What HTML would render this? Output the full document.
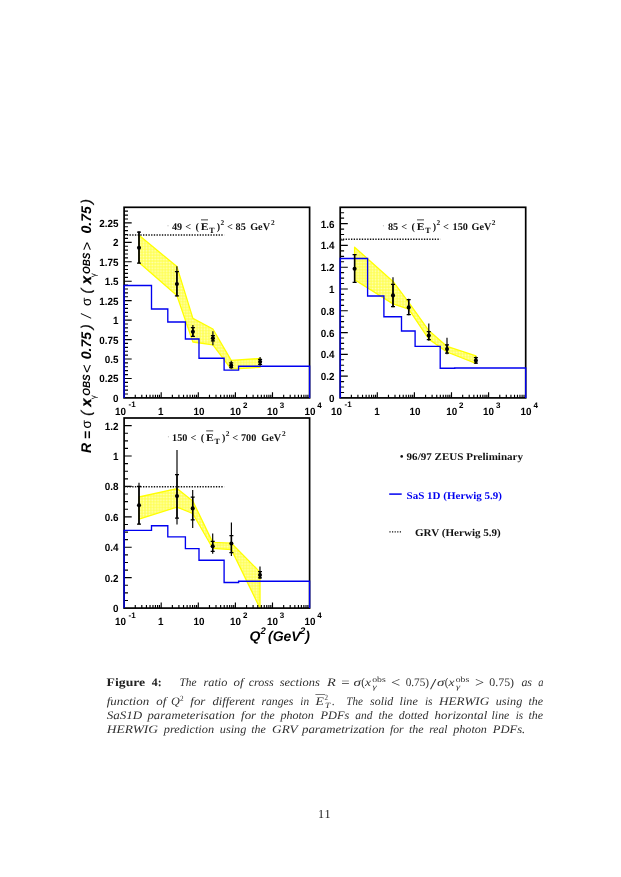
<!DOCTYPE html>
<html><head><meta charset="utf-8"><title>Figure 4</title>
<style>html,body{margin:0;padding:0;background:#fff;}svg{display:block;will-change:transform}text{white-space:pre;text-rendering:geometricPrecision}</style></head><body>
<svg width="621" height="877" viewBox="0 0 621 877">
<defs><pattern id="hat" width="2.9" height="2.9" patternUnits="userSpaceOnUse"><rect width="2.9" height="2.9" fill="#ffff46"/><rect x="0.55" y="0.55" width="1.8" height="1.8" fill="#ffffbe"/></pattern>
<clipPath id="cp1"><rect x="124.1" y="207.3" width="185.5" height="190.59999999999997"/></clipPath>
<clipPath id="cp2"><rect x="340.2" y="207.3" width="185.5" height="190.59999999999997"/></clipPath>
<clipPath id="cp3"><rect x="124.1" y="418.0" width="185.5" height="190.10000000000002"/></clipPath>
</defs>
<rect width="621" height="877" fill="#fff"/>
<g id="panel1">
<polygon clip-path="url(#cp1)" points="139,235.3 176.9,266.6 192.9,318.4 212.9,329 231.2,360.4 260.1,358.5 260.1,367.3 231.2,369.1 212.9,344.8 192.9,342 176.9,295.6 139,262.5" fill="url(#hat)" stroke="#ffff00" stroke-width="1.3" stroke-linejoin="round"/>
<rect x="124.1" y="207.3" width="185.5" height="190.6" fill="none" stroke="#000" stroke-width="1.7"/>
<path d="M124.1,394.01h3.9 M124.1,390.12h3.9 M124.1,386.23h3.9 M124.1,382.34h3.9 M124.1,378.45h7.6 M124.1,374.56h3.9 M124.1,370.67h3.9 M124.1,366.78h3.9 M124.1,362.89h3.9 M124.1,359h7.6 M124.1,355.11h3.9 M124.1,351.22h3.9 M124.1,347.33h3.9 M124.1,343.44h3.9 M124.1,339.55h7.6 M124.1,335.66h3.9 M124.1,331.77h3.9 M124.1,327.88h3.9 M124.1,323.99h3.9 M124.1,320.1h7.6 M124.1,316.21h3.9 M124.1,312.32h3.9 M124.1,308.43h3.9 M124.1,304.54h3.9 M124.1,300.66h7.6 M124.1,296.77h3.9 M124.1,292.88h3.9 M124.1,288.99h3.9 M124.1,285.1h3.9 M124.1,281.21h7.6 M124.1,277.32h3.9 M124.1,273.43h3.9 M124.1,269.54h3.9 M124.1,265.65h3.9 M124.1,261.76h7.6 M124.1,257.87h3.9 M124.1,253.98h3.9 M124.1,250.09h3.9 M124.1,246.2h3.9 M124.1,242.31h7.6 M124.1,238.42h3.9 M124.1,234.53h3.9 M124.1,230.64h3.9 M124.1,226.75h3.9 M124.1,222.86h7.6 M124.1,218.97h3.9 M124.1,215.08h3.9 M124.1,211.19h3.9 M135.27,397.9v-3.2 M141.8,397.9v-3.2 M146.44,397.9v-3.2 M150.03,397.9v-3.2 M152.97,397.9v-3.2 M155.45,397.9v-3.2 M157.6,397.9v-3.2 M159.5,397.9v-3.2 M161.2,397.9v-5.7 M172.37,397.9v-3.2 M178.9,397.9v-3.2 M183.54,397.9v-3.2 M187.13,397.9v-3.2 M190.07,397.9v-3.2 M192.55,397.9v-3.2 M194.7,397.9v-3.2 M196.6,397.9v-3.2 M198.3,397.9v-5.7 M209.47,397.9v-3.2 M216,397.9v-3.2 M220.64,397.9v-3.2 M224.23,397.9v-3.2 M227.17,397.9v-3.2 M229.65,397.9v-3.2 M231.8,397.9v-3.2 M233.7,397.9v-3.2 M235.4,397.9v-5.7 M246.57,397.9v-3.2 M253.1,397.9v-3.2 M257.74,397.9v-3.2 M261.33,397.9v-3.2 M264.27,397.9v-3.2 M266.75,397.9v-3.2 M268.9,397.9v-3.2 M270.8,397.9v-3.2 M272.5,397.9v-5.7 M283.67,397.9v-3.2 M290.2,397.9v-3.2 M294.84,397.9v-3.2 M298.43,397.9v-3.2 M301.37,397.9v-3.2 M303.85,397.9v-3.2 M306,397.9v-3.2 M307.9,397.9v-3.2" stroke="#000" stroke-width="1.15" fill="none"/>
<text transform="translate(118.4,401.9) scale(0.95,1)" text-anchor="end" font-family="Liberation Sans, sans-serif" font-weight="bold" font-size="10.4">0</text>
<text transform="translate(118.4,382.45) scale(0.95,1)" text-anchor="end" font-family="Liberation Sans, sans-serif" font-weight="bold" font-size="10.4">0.25</text>
<text transform="translate(118.4,363) scale(0.95,1)" text-anchor="end" font-family="Liberation Sans, sans-serif" font-weight="bold" font-size="10.4">0.5</text>
<text transform="translate(118.4,343.55) scale(0.95,1)" text-anchor="end" font-family="Liberation Sans, sans-serif" font-weight="bold" font-size="10.4">0.75</text>
<text transform="translate(118.4,324.1) scale(0.95,1)" text-anchor="end" font-family="Liberation Sans, sans-serif" font-weight="bold" font-size="10.4">1</text>
<text transform="translate(118.4,304.66) scale(0.95,1)" text-anchor="end" font-family="Liberation Sans, sans-serif" font-weight="bold" font-size="10.4">1.25</text>
<text transform="translate(118.4,285.21) scale(0.95,1)" text-anchor="end" font-family="Liberation Sans, sans-serif" font-weight="bold" font-size="10.4">1.5</text>
<text transform="translate(118.4,265.76) scale(0.95,1)" text-anchor="end" font-family="Liberation Sans, sans-serif" font-weight="bold" font-size="10.4">1.75</text>
<text transform="translate(118.4,246.31) scale(0.95,1)" text-anchor="end" font-family="Liberation Sans, sans-serif" font-weight="bold" font-size="10.4">2</text>
<text transform="translate(118.4,226.86) scale(0.95,1)" text-anchor="end" font-family="Liberation Sans, sans-serif" font-weight="bold" font-size="10.4">2.25</text>
<text transform="translate(120.4,415.2) scale(0.95,1)" text-anchor="middle" font-family="Liberation Sans, sans-serif" font-weight="bold" font-size="10.4">10</text>
<text x="128.5" y="407.3" font-family="Liberation Sans, sans-serif" font-weight="bold" font-size="8.0">-1</text>
<text transform="translate(160.8,415.2) scale(0.95,1)" text-anchor="middle" font-family="Liberation Sans, sans-serif" font-weight="bold" font-size="10.4">1</text>
<text transform="translate(198.9,415.2) scale(0.95,1)" text-anchor="middle" font-family="Liberation Sans, sans-serif" font-weight="bold" font-size="10.4">10</text>
<text transform="translate(235.6,415.2) scale(0.95,1)" text-anchor="middle" font-family="Liberation Sans, sans-serif" font-weight="bold" font-size="10.4">10</text>
<text x="242.9" y="407.8" font-family="Liberation Sans, sans-serif" font-weight="bold" font-size="8.0">2</text>
<text transform="translate(272.5,415.2) scale(0.95,1)" text-anchor="middle" font-family="Liberation Sans, sans-serif" font-weight="bold" font-size="10.4">10</text>
<text x="279.8" y="407.8" font-family="Liberation Sans, sans-serif" font-weight="bold" font-size="8.0">3</text>
<text transform="translate(310,415.2) scale(0.95,1)" text-anchor="middle" font-family="Liberation Sans, sans-serif" font-weight="bold" font-size="10.4">10</text>
<text x="317.3" y="407.8" font-family="Liberation Sans, sans-serif" font-weight="bold" font-size="8.0">4</text>
<path d="M124.1,235.0H224.1" stroke="#111" stroke-width="1.5" stroke-dasharray="1.35 1.35" fill="none"/>
<path d="M124.1,397.9V285.5H151.5V309.0H167.8V322.0H185.4V339.0H199V358.2H224.1V370.1H238.6V366.2H309.6V397.9" stroke="#0000f0" stroke-width="1.35" fill="none" stroke-linejoin="miter"/>
<path d="M139,231V263.6 M176.9,266.3V296.6 M192.9,325V337 M212.9,331.2V345.3 M231.2,360.7V368.8 M260.1,357V365.8" stroke="#000" stroke-width="1.15" fill="none"/>
<path d="M139,232V263 M176.9,271.5V295.8 M192.9,327.7V336.3 M212.9,335.6V340.8 M231.2,362.9V367.7 M260.1,359.3V364.3" stroke="#000" stroke-width="1.5" fill="none"/>
<path d="M137,232h4.0 M137,263h4.0 M174.9,271.5h4.0 M174.9,295.8h4.0 M190.9,327.7h4.0 M190.9,336.3h4.0 M210.9,335.6h4.0 M210.9,340.8h4.0 M229.2,362.9h4.0 M229.2,367.7h4.0 M258.1,359.3h4.0 M258.1,364.3h4.0" stroke="#000" stroke-width="1.25" fill="none"/>
<circle cx="139" cy="247.7" r="2.05" fill="#000"/>
<circle cx="176.9" cy="284" r="2.05" fill="#000"/>
<circle cx="192.9" cy="331.8" r="2.05" fill="#000"/>
<circle cx="212.9" cy="338.2" r="2.05" fill="#000"/>
<circle cx="231.2" cy="365.4" r="2.05" fill="#000"/>
<circle cx="260.1" cy="361.8" r="2.05" fill="#000"/>
</g>
<g id="panel2">
<polygon clip-path="url(#cp2)" points="354.6,247.2 393,281.4 408.7,302.4 428.8,330.6 447,346.4 475.9,355.8 475.9,363.3 447,352 428.8,339.1 408.7,309.2 393,303.9 354.6,279.8" fill="url(#hat)" stroke="#ffff00" stroke-width="1.3" stroke-linejoin="round"/>
<rect x="340.2" y="207.3" width="185.5" height="190.6" fill="none" stroke="#000" stroke-width="1.7"/>
<path d="M340.2,392.45h3.9 M340.2,387.01h3.9 M340.2,381.56h3.9 M340.2,376.12h7.6 M340.2,370.67h3.9 M340.2,365.23h3.9 M340.2,359.78h3.9 M340.2,354.33h7.6 M340.2,348.89h3.9 M340.2,343.44h3.9 M340.2,338h3.9 M340.2,332.55h7.6 M340.2,327.11h3.9 M340.2,321.66h3.9 M340.2,316.21h3.9 M340.2,310.77h7.6 M340.2,305.32h3.9 M340.2,299.88h3.9 M340.2,294.43h3.9 M340.2,288.99h7.6 M340.2,283.54h3.9 M340.2,278.09h3.9 M340.2,272.65h3.9 M340.2,267.2h7.6 M340.2,261.76h3.9 M340.2,256.31h3.9 M340.2,250.87h3.9 M340.2,245.42h7.6 M340.2,239.97h3.9 M340.2,234.53h3.9 M340.2,229.08h3.9 M340.2,223.64h7.6 M340.2,218.19h3.9 M340.2,212.75h3.9 M351.37,397.9v-3.2 M357.9,397.9v-3.2 M362.54,397.9v-3.2 M366.13,397.9v-3.2 M369.07,397.9v-3.2 M371.55,397.9v-3.2 M373.7,397.9v-3.2 M375.6,397.9v-3.2 M377.3,397.9v-5.7 M388.47,397.9v-3.2 M395,397.9v-3.2 M399.64,397.9v-3.2 M403.23,397.9v-3.2 M406.17,397.9v-3.2 M408.65,397.9v-3.2 M410.8,397.9v-3.2 M412.7,397.9v-3.2 M414.4,397.9v-5.7 M425.57,397.9v-3.2 M432.1,397.9v-3.2 M436.74,397.9v-3.2 M440.33,397.9v-3.2 M443.27,397.9v-3.2 M445.75,397.9v-3.2 M447.9,397.9v-3.2 M449.8,397.9v-3.2 M451.5,397.9v-5.7 M462.67,397.9v-3.2 M469.2,397.9v-3.2 M473.84,397.9v-3.2 M477.43,397.9v-3.2 M480.37,397.9v-3.2 M482.85,397.9v-3.2 M485,397.9v-3.2 M486.9,397.9v-3.2 M488.6,397.9v-5.7 M499.77,397.9v-3.2 M506.3,397.9v-3.2 M510.94,397.9v-3.2 M514.53,397.9v-3.2 M517.47,397.9v-3.2 M519.95,397.9v-3.2 M522.1,397.9v-3.2 M524,397.9v-3.2" stroke="#000" stroke-width="1.15" fill="none"/>
<text transform="translate(334.5,401.9) scale(0.95,1)" text-anchor="end" font-family="Liberation Sans, sans-serif" font-weight="bold" font-size="10.4">0</text>
<text transform="translate(334.5,380.12) scale(0.95,1)" text-anchor="end" font-family="Liberation Sans, sans-serif" font-weight="bold" font-size="10.4">0.2</text>
<text transform="translate(334.5,358.33) scale(0.95,1)" text-anchor="end" font-family="Liberation Sans, sans-serif" font-weight="bold" font-size="10.4">0.4</text>
<text transform="translate(334.5,336.55) scale(0.95,1)" text-anchor="end" font-family="Liberation Sans, sans-serif" font-weight="bold" font-size="10.4">0.6</text>
<text transform="translate(334.5,314.77) scale(0.95,1)" text-anchor="end" font-family="Liberation Sans, sans-serif" font-weight="bold" font-size="10.4">0.8</text>
<text transform="translate(334.5,292.99) scale(0.95,1)" text-anchor="end" font-family="Liberation Sans, sans-serif" font-weight="bold" font-size="10.4">1</text>
<text transform="translate(334.5,271.2) scale(0.95,1)" text-anchor="end" font-family="Liberation Sans, sans-serif" font-weight="bold" font-size="10.4">1.2</text>
<text transform="translate(334.5,249.42) scale(0.95,1)" text-anchor="end" font-family="Liberation Sans, sans-serif" font-weight="bold" font-size="10.4">1.4</text>
<text transform="translate(334.5,227.64) scale(0.95,1)" text-anchor="end" font-family="Liberation Sans, sans-serif" font-weight="bold" font-size="10.4">1.6</text>
<text transform="translate(336.5,415.2) scale(0.95,1)" text-anchor="middle" font-family="Liberation Sans, sans-serif" font-weight="bold" font-size="10.4">10</text>
<text x="344.6" y="407.3" font-family="Liberation Sans, sans-serif" font-weight="bold" font-size="8.0">-1</text>
<text transform="translate(376.9,415.2) scale(0.95,1)" text-anchor="middle" font-family="Liberation Sans, sans-serif" font-weight="bold" font-size="10.4">1</text>
<text transform="translate(415,415.2) scale(0.95,1)" text-anchor="middle" font-family="Liberation Sans, sans-serif" font-weight="bold" font-size="10.4">10</text>
<text transform="translate(451.7,415.2) scale(0.95,1)" text-anchor="middle" font-family="Liberation Sans, sans-serif" font-weight="bold" font-size="10.4">10</text>
<text x="459" y="407.8" font-family="Liberation Sans, sans-serif" font-weight="bold" font-size="8.0">2</text>
<text transform="translate(488.6,415.2) scale(0.95,1)" text-anchor="middle" font-family="Liberation Sans, sans-serif" font-weight="bold" font-size="10.4">10</text>
<text x="495.9" y="407.8" font-family="Liberation Sans, sans-serif" font-weight="bold" font-size="8.0">3</text>
<text transform="translate(526.1,415.2) scale(0.95,1)" text-anchor="middle" font-family="Liberation Sans, sans-serif" font-weight="bold" font-size="10.4">10</text>
<text x="533.4" y="407.8" font-family="Liberation Sans, sans-serif" font-weight="bold" font-size="8.0">4</text>
<path d="M340.2,239.2H440.2" stroke="#111" stroke-width="1.5" stroke-dasharray="1.35 1.35" fill="none"/>
<path d="M340.2,397.9V258.5H367.6V296.0H383.9V316.7H401.5V331.0H415.1V346.4H440.2V368.2H454.7V368.0H525.7V397.9" stroke="#0000f0" stroke-width="1.35" fill="none" stroke-linejoin="miter"/>
<path d="M354.6,254V282.9 M393,277.3V307.3 M408.7,298.8V315.2 M428.8,323.4V340.7 M447,337.8V354.2 M475.9,356.5V363.9" stroke="#000" stroke-width="1.15" fill="none"/>
<path d="M354.6,254.7V282.3 M393,284.3V306.6 M408.7,299.5V314.6 M428.8,331.7V339.5 M447,344.8V353 M475.9,357.5V363" stroke="#000" stroke-width="1.5" fill="none"/>
<path d="M352.6,254.7h4.0 M352.6,282.3h4.0 M391,284.3h4.0 M391,306.6h4.0 M406.7,299.5h4.0 M406.7,314.6h4.0 M426.8,331.7h4.0 M426.8,339.5h4.0 M445,344.8h4.0 M445,353h4.0 M473.9,357.5h4.0 M473.9,363h4.0" stroke="#000" stroke-width="1.25" fill="none"/>
<circle cx="354.6" cy="268.8" r="2.05" fill="#000"/>
<circle cx="393" cy="295.4" r="2.05" fill="#000"/>
<circle cx="408.7" cy="307.4" r="2.05" fill="#000"/>
<circle cx="428.8" cy="335.5" r="2.05" fill="#000"/>
<circle cx="447" cy="349.1" r="2.05" fill="#000"/>
<circle cx="475.9" cy="360.6" r="2.05" fill="#000"/>
</g>
<g id="panel3">
<polygon clip-path="url(#cp3)" points="139,497 177,488.6 192.7,500.9 212.7,542.4 231.4,543.2 260,572.1 260,608.3 231.4,549.6 212.7,548.3 192.7,513.5 177,507.1 139,519.2" fill="url(#hat)" stroke="#ffff00" stroke-width="1.3" stroke-linejoin="round"/>
<rect x="124.1" y="418.0" width="185.5" height="190.1" fill="none" stroke="#000" stroke-width="1.7"/>
<path d="M124.1,600.5h3.9 M124.1,592.89h3.9 M124.1,585.29h3.9 M124.1,577.68h7.6 M124.1,570.08h3.9 M124.1,562.48h3.9 M124.1,554.87h3.9 M124.1,547.27h7.6 M124.1,539.66h3.9 M124.1,532.06h3.9 M124.1,524.46h3.9 M124.1,516.85h7.6 M124.1,509.25h3.9 M124.1,501.64h3.9 M124.1,494.04h3.9 M124.1,486.44h7.6 M124.1,478.83h3.9 M124.1,471.23h3.9 M124.1,463.62h3.9 M124.1,456.02h7.6 M124.1,448.42h3.9 M124.1,440.81h3.9 M124.1,433.21h3.9 M124.1,425.6h7.6 M135.27,608.1v-3.2 M141.8,608.1v-3.2 M146.44,608.1v-3.2 M150.03,608.1v-3.2 M152.97,608.1v-3.2 M155.45,608.1v-3.2 M157.6,608.1v-3.2 M159.5,608.1v-3.2 M161.2,608.1v-5.7 M172.37,608.1v-3.2 M178.9,608.1v-3.2 M183.54,608.1v-3.2 M187.13,608.1v-3.2 M190.07,608.1v-3.2 M192.55,608.1v-3.2 M194.7,608.1v-3.2 M196.6,608.1v-3.2 M198.3,608.1v-5.7 M209.47,608.1v-3.2 M216,608.1v-3.2 M220.64,608.1v-3.2 M224.23,608.1v-3.2 M227.17,608.1v-3.2 M229.65,608.1v-3.2 M231.8,608.1v-3.2 M233.7,608.1v-3.2 M235.4,608.1v-5.7 M246.57,608.1v-3.2 M253.1,608.1v-3.2 M257.74,608.1v-3.2 M261.33,608.1v-3.2 M264.27,608.1v-3.2 M266.75,608.1v-3.2 M268.9,608.1v-3.2 M270.8,608.1v-3.2 M272.5,608.1v-5.7 M283.67,608.1v-3.2 M290.2,608.1v-3.2 M294.84,608.1v-3.2 M298.43,608.1v-3.2 M301.37,608.1v-3.2 M303.85,608.1v-3.2 M306,608.1v-3.2 M307.9,608.1v-3.2" stroke="#000" stroke-width="1.15" fill="none"/>
<text transform="translate(118.4,612.1) scale(0.95,1)" text-anchor="end" font-family="Liberation Sans, sans-serif" font-weight="bold" font-size="10.4">0</text>
<text transform="translate(118.4,581.68) scale(0.95,1)" text-anchor="end" font-family="Liberation Sans, sans-serif" font-weight="bold" font-size="10.4">0.2</text>
<text transform="translate(118.4,551.27) scale(0.95,1)" text-anchor="end" font-family="Liberation Sans, sans-serif" font-weight="bold" font-size="10.4">0.4</text>
<text transform="translate(118.4,520.85) scale(0.95,1)" text-anchor="end" font-family="Liberation Sans, sans-serif" font-weight="bold" font-size="10.4">0.6</text>
<text transform="translate(118.4,490.44) scale(0.95,1)" text-anchor="end" font-family="Liberation Sans, sans-serif" font-weight="bold" font-size="10.4">0.8</text>
<text transform="translate(118.4,460.02) scale(0.95,1)" text-anchor="end" font-family="Liberation Sans, sans-serif" font-weight="bold" font-size="10.4">1</text>
<text transform="translate(118.4,429.6) scale(0.95,1)" text-anchor="end" font-family="Liberation Sans, sans-serif" font-weight="bold" font-size="10.4">1.2</text>
<text transform="translate(120.4,625.4) scale(0.95,1)" text-anchor="middle" font-family="Liberation Sans, sans-serif" font-weight="bold" font-size="10.4">10</text>
<text x="128.5" y="617.5" font-family="Liberation Sans, sans-serif" font-weight="bold" font-size="8.0">-1</text>
<text transform="translate(160.8,625.4) scale(0.95,1)" text-anchor="middle" font-family="Liberation Sans, sans-serif" font-weight="bold" font-size="10.4">1</text>
<text transform="translate(198.9,625.4) scale(0.95,1)" text-anchor="middle" font-family="Liberation Sans, sans-serif" font-weight="bold" font-size="10.4">10</text>
<text transform="translate(235.6,625.4) scale(0.95,1)" text-anchor="middle" font-family="Liberation Sans, sans-serif" font-weight="bold" font-size="10.4">10</text>
<text x="242.9" y="618" font-family="Liberation Sans, sans-serif" font-weight="bold" font-size="8.0">2</text>
<text transform="translate(272.5,625.4) scale(0.95,1)" text-anchor="middle" font-family="Liberation Sans, sans-serif" font-weight="bold" font-size="10.4">10</text>
<text x="279.8" y="618" font-family="Liberation Sans, sans-serif" font-weight="bold" font-size="8.0">3</text>
<text transform="translate(310,625.4) scale(0.95,1)" text-anchor="middle" font-family="Liberation Sans, sans-serif" font-weight="bold" font-size="10.4">10</text>
<text x="317.3" y="618" font-family="Liberation Sans, sans-serif" font-weight="bold" font-size="8.0">4</text>
<path d="M124.1,486.8H224.1" stroke="#111" stroke-width="1.5" stroke-dasharray="1.35 1.35" fill="none"/>
<path d="M124.1,608.1V530.3H151.5V525.7H167.8V536.8H185.4V548.6H199V560.2H224.1V582.5H238.6V581.2H309.6V608.1" stroke="#0000f0" stroke-width="1.35" fill="none" stroke-linejoin="miter"/>
<path d="M139,482.8V524.4 M177,450.1V524.5 M192.7,490.1V527.9 M212.7,533.4V553.7 M231.4,522.5V555.9 M260,566.5V578.9" stroke="#000" stroke-width="1.15" fill="none"/>
<path d="M139,486.4V524 M177,474.5V518 M192.7,497.1V519.9 M212.7,541.4V551.3 M231.4,535.5V552.6 M260,571.6V577.9" stroke="#000" stroke-width="1.5" fill="none"/>
<path d="M137,486.4h4.0 M137,524h4.0 M175,474.5h4.0 M175,518h4.0 M190.7,497.1h4.0 M190.7,519.9h4.0 M210.7,541.4h4.0 M210.7,551.3h4.0 M229.4,535.5h4.0 M229.4,552.6h4.0 M258,571.6h4.0 M258,577.9h4.0" stroke="#000" stroke-width="1.25" fill="none"/>
<circle cx="139" cy="505.2" r="2.05" fill="#000"/>
<circle cx="177" cy="496.1" r="2.05" fill="#000"/>
<circle cx="192.7" cy="508.4" r="2.05" fill="#000"/>
<circle cx="212.7" cy="546.2" r="2.05" fill="#000"/>
<circle cx="231.4" cy="543.5" r="2.05" fill="#000"/>
<circle cx="260" cy="575" r="2.05" fill="#000"/>
</g>
<g id="ptitles" font-family="Liberation Serif, serif" font-weight="bold" font-size="10.2" fill="#111">
<text x="182.2" y="229.9" text-anchor="end">49</text>
<text x="185.2" y="229.9">&lt;</text>
<text x="195.6" y="229.9">(</text>
<text x="200.7" y="229.9" textLength="7.8" lengthAdjust="spacingAndGlyphs">E</text>
<rect x="201" y="219.5" width="7.0" height="0.8" fill="#111"/>
<text x="209.3" y="232.8" font-size="7.9" fill="#000">T</text>
<text x="216.7" y="229.9">)</text>
<text x="220.5" y="225.3" font-size="7.4">2</text>
<text x="227" y="229.9">&lt;</text>
<text x="235.6" y="229.9">85</text>
<text x="250.2" y="229.9">GeV</text>
<text x="271" y="225.3" font-size="7.4">2</text>
<circle cx="168" cy="225.7" r="0.5" fill="#999"/>
<text x="398.2" y="229.9" text-anchor="end">85</text>
<text x="401.2" y="229.9">&lt;</text>
<text x="411.6" y="229.9">(</text>
<text x="416.7" y="229.9" textLength="7.8" lengthAdjust="spacingAndGlyphs">E</text>
<rect x="417" y="219.5" width="7.0" height="0.8" fill="#111"/>
<text x="425.3" y="232.8" font-size="7.9" fill="#000">T</text>
<text x="432.7" y="229.9">)</text>
<text x="436.5" y="225.3" font-size="7.4">2</text>
<text x="443" y="229.9">&lt;</text>
<text x="452.6" y="229.9">150</text>
<text x="471.5" y="229.9">GeV</text>
<text x="491.8" y="225.3" font-size="7.4">2</text>
<circle cx="383.4" cy="225.7" r="0.5" fill="#999"/>
<text x="187.4" y="440.9" text-anchor="end">150</text>
<text x="190.4" y="440.9">&lt;</text>
<text x="200.8" y="440.9">(</text>
<text x="205.9" y="440.9" textLength="7.8" lengthAdjust="spacingAndGlyphs">E</text>
<rect x="206.2" y="430.5" width="7.0" height="0.8" fill="#111"/>
<text x="214.5" y="443.8" font-size="7.9" fill="#000">T</text>
<text x="221.9" y="440.9">)</text>
<text x="225.7" y="436.3" font-size="7.4">2</text>
<text x="232.2" y="440.9">&lt;</text>
<text x="241" y="440.9">700</text>
<text x="261.3" y="440.9">GeV</text>
<text x="282" y="436.3" font-size="7.4">2</text>
<circle cx="168.4" cy="436.7" r="0.5" fill="#999"/>
</g>
<g id="legend" font-family="Liberation Serif, serif" font-weight="bold" font-size="10.3">
<circle cx="401.7" cy="456.4" r="1.3" fill="#111"/>
<text x="406.6" y="460.0" fill="#111" textLength="116.4" lengthAdjust="spacingAndGlyphs">96/97 ZEUS Preliminary</text>
<path d="M389.2,494.1H401.7" stroke="#0000f0" stroke-width="1.5"/>
<text x="406.6" y="498.7" fill="#0000f0" textLength="95.4" lengthAdjust="spacingAndGlyphs">SaS 1D (Herwig 5.9)</text>
<path d="M389.4,531.8H402.4" stroke="#111" stroke-width="1.2" stroke-dasharray="1.2 1.4"/>
<text x="415.0" y="536.1" fill="#111" textLength="85.8" lengthAdjust="spacingAndGlyphs">GRV (Herwig 5.9)</text>
</g>
<g id="xtitle" font-family="Liberation Sans, sans-serif" font-weight="bold" font-style="italic" font-size="14" fill="#000">
<text x="249.4" y="640.7">Q</text><text x="260.6" y="634.2" font-size="9.5">2</text>
<text x="268.0" y="640.7">(GeV</text><text x="300.0" y="634.2" font-size="9.5">2</text><text x="305.3" y="640.7">)</text>
</g>
<g id="ytitle" transform="translate(91.3,452.7) rotate(-90)" font-family="Liberation Sans, sans-serif" font-weight="bold" font-style="italic" font-size="14" fill="#000">
<text x="-0.25" y="0" >R</text>
<text x="13.65" y="0.9" >=</text>
<text x="24.2" y="0" font-weight="normal" font-style="normal" font-size="13.6">σ</text>
<text x="37" y="0" font-weight="normal" stroke="#000" stroke-width="0.35">(</text>
<text x="46.2" y="0" stroke="#000" stroke-width="0.45">x</text>
<text x="53.4" y="4.9" font-weight="normal" font-style="normal" font-size="8.2">γ</text>
<text transform="translate(57,-1.2) scale(1,1.06)" x="0" y="0" font-size="9.9">OBS</text>
<text x="79.6" y="0.9" font-weight="normal" font-style="normal" font-size="15">&lt;</text>
<text x="93.5" y="0" >0.75</text>
<text x="123.7" y="0" font-weight="normal" stroke="#000" stroke-width="0.35">)</text>
<text x="134.6" y="0" font-weight="normal">/</text>
<text x="146.8" y="0" font-weight="normal" font-style="normal" font-size="13.6">σ</text>
<text x="159.1" y="0" font-weight="normal" stroke="#000" stroke-width="0.35">(</text>
<text x="168.8" y="0" stroke="#000" stroke-width="0.45">x</text>
<text x="175.5" y="4.9" font-weight="normal" font-style="normal" font-size="8.2">γ</text>
<text transform="translate(178.7,-1.2) scale(1,1.06)" x="0" y="0" font-size="9.9">OBS</text>
<text x="202.3" y="0.9" font-weight="normal" font-style="normal" font-size="15">&gt;</text>
<text x="219.2" y="0" >0.75</text>
<text x="249" y="0" font-weight="normal" stroke="#000" stroke-width="0.35">)</text>
</g>
<g id="caption" font-family="Liberation Serif, serif" font-size="11.5" fill="#222">
<text x="106.6" y="686.4" font-weight="bold" textLength="38.6" lengthAdjust="spacingAndGlyphs">Figure</text><text x="151.8" y="686.4" font-weight="bold" textLength="9.9" lengthAdjust="spacingAndGlyphs">4:</text>
<g font-style="italic" fill="#303030">
<text x="179.4" y="686.4" textLength="17.1" lengthAdjust="spacingAndGlyphs">The</text>
<text x="203.5" y="686.4" textLength="23.9" lengthAdjust="spacingAndGlyphs">ratio</text>
<text x="233.6" y="686.4" textLength="10.1" lengthAdjust="spacingAndGlyphs">of</text>
<text x="248.7" y="686.4" textLength="25.1" lengthAdjust="spacingAndGlyphs">cross</text>
<text x="279.7" y="686.4" textLength="40.1" lengthAdjust="spacingAndGlyphs">sections</text>
<text x="327" y="686.4" textLength="8.8" lengthAdjust="spacingAndGlyphs">R</text>
<text x="521.4" y="686.4" textLength="10.6" lengthAdjust="spacingAndGlyphs">as</text>
<text x="538.2" y="686.4" textLength="5.2" lengthAdjust="spacingAndGlyphs">a</text>
<text x="106.7" y="705" textLength="42.5" lengthAdjust="spacingAndGlyphs">function</text>
<text x="156.3" y="705" textLength="10.1" lengthAdjust="spacingAndGlyphs">of</text>
<text x="170.9" y="705" textLength="8.8" lengthAdjust="spacingAndGlyphs">Q</text>
<text x="190.3" y="705" textLength="15.1" lengthAdjust="spacingAndGlyphs">for</text>
<text x="212.4" y="705" textLength="42.5" lengthAdjust="spacingAndGlyphs">different</text>
<text x="261.4" y="705" textLength="32" lengthAdjust="spacingAndGlyphs">ranges</text>
<text x="300.3" y="705" textLength="8.8" lengthAdjust="spacingAndGlyphs">in</text>
<text x="346.3" y="705" textLength="16.7" lengthAdjust="spacingAndGlyphs">The</text>
<text x="370.1" y="705" textLength="23.2" lengthAdjust="spacingAndGlyphs">solid</text>
<text x="399.5" y="705" textLength="18.3" lengthAdjust="spacingAndGlyphs">line</text>
<text x="424.9" y="705" textLength="7.6" lengthAdjust="spacingAndGlyphs">is</text>
<text x="439" y="705" textLength="50.3" lengthAdjust="spacingAndGlyphs">HERWIG</text>
<text x="495.7" y="705" textLength="26.6" lengthAdjust="spacingAndGlyphs">using</text>
<text x="528.5" y="705" textLength="14.7" lengthAdjust="spacingAndGlyphs">the</text>
<text x="106.7" y="719.1" textLength="35.5" lengthAdjust="spacingAndGlyphs">SaS1D</text>
<text x="147.5" y="719.1" textLength="87.4" lengthAdjust="spacingAndGlyphs">parameterisation</text>
<text x="241.1" y="719.1" textLength="15" lengthAdjust="spacingAndGlyphs">for</text>
<text x="260.5" y="719.1" textLength="14.2" lengthAdjust="spacingAndGlyphs">the</text>
<text x="280.4" y="719.1" textLength="33.5" lengthAdjust="spacingAndGlyphs">photon</text>
<text x="320.5" y="719.1" textLength="28.8" lengthAdjust="spacingAndGlyphs">PDFs</text>
<text x="355.2" y="719.1" textLength="17.2" lengthAdjust="spacingAndGlyphs">and</text>
<text x="378.6" y="719.1" textLength="14.3" lengthAdjust="spacingAndGlyphs">the</text>
<text x="398.8" y="719.1" textLength="29.6" lengthAdjust="spacingAndGlyphs">dotted</text>
<text x="434.6" y="719.1" textLength="52.7" lengthAdjust="spacingAndGlyphs">horizontal</text>
<text x="491.6" y="719.1" textLength="17.7" lengthAdjust="spacingAndGlyphs">line</text>
<text x="515.7" y="719.1" textLength="7.4" lengthAdjust="spacingAndGlyphs">is</text>
<text x="528.5" y="719.1" textLength="14.7" lengthAdjust="spacingAndGlyphs">the</text>
<text x="106.7" y="733.3" textLength="51.4" lengthAdjust="spacingAndGlyphs">HERWIG</text>
<text x="163.8" y="733.3" textLength="50.3" lengthAdjust="spacingAndGlyphs">prediction</text>
<text x="219.8" y="733.3" textLength="26.6" lengthAdjust="spacingAndGlyphs">using</text>
<text x="251.3" y="733.3" textLength="14.6" lengthAdjust="spacingAndGlyphs">the</text>
<text x="272.1" y="733.3" textLength="25.6" lengthAdjust="spacingAndGlyphs">GRV</text>
<text x="302" y="733.3" textLength="82.8" lengthAdjust="spacingAndGlyphs">parametrization</text>
<text x="390" y="733.3" textLength="13.6" lengthAdjust="spacingAndGlyphs">for</text>
<text x="408.9" y="733.3" textLength="14.7" lengthAdjust="spacingAndGlyphs">the</text>
<text x="429.3" y="733.3" textLength="18.1" lengthAdjust="spacingAndGlyphs">real</text>
<text x="453.2" y="733.3" textLength="33.7" lengthAdjust="spacingAndGlyphs">photon</text>
<text x="492.7" y="733.3" textLength="32.6" lengthAdjust="spacingAndGlyphs">PDFs.</text>
<text x="341.2" y="686.4" font-style="normal" textLength="8.4" lengthAdjust="spacingAndGlyphs">=</text>
<text x="353.6" y="686.4"  textLength="7.4" lengthAdjust="spacingAndGlyphs">σ</text>
<text x="361.2" y="686.4" font-style="normal" textLength="3.6" lengthAdjust="spacingAndGlyphs">(</text>
<text x="365.1" y="686.4"  textLength="6" lengthAdjust="spacingAndGlyphs">x</text>
<text x="372.2" y="682" font-style="normal" font-size="8.0" textLength="13.5" lengthAdjust="spacingAndGlyphs">obs</text>
<text x="372.4" y="689" font-size="7.2" textLength="4.2" lengthAdjust="spacingAndGlyphs">γ</text>
<text x="437.1" y="686.4"  textLength="7.4" lengthAdjust="spacingAndGlyphs">σ</text>
<text x="444.7" y="686.4" font-style="normal" textLength="3.6" lengthAdjust="spacingAndGlyphs">(</text>
<text x="448.6" y="686.4"  textLength="6" lengthAdjust="spacingAndGlyphs">x</text>
<text x="455.7" y="682" font-style="normal" font-size="8.0" textLength="13.5" lengthAdjust="spacingAndGlyphs">obs</text>
<text x="455.9" y="689" font-size="7.2" textLength="4.2" lengthAdjust="spacingAndGlyphs">γ</text>
<text x="391" y="687.2" font-style="normal" font-size="14" textLength="9.2" lengthAdjust="spacingAndGlyphs">&lt;</text>
<text x="405.7" y="686.4" font-style="normal" textLength="23.4" lengthAdjust="spacingAndGlyphs">0.75)</text>
<text x="430" y="688.8" font-style="normal" font-size="15" textLength="6.4" lengthAdjust="spacingAndGlyphs">/</text>
<text x="475" y="687.2" font-style="normal" font-size="14" textLength="9.2" lengthAdjust="spacingAndGlyphs">&gt;</text>
<text x="489.3" y="686.4" font-style="normal" textLength="24.8" lengthAdjust="spacingAndGlyphs">0.75)</text>
<text x="180" y="700.6" font-style="normal" font-size="8.0" textLength="3.6" lengthAdjust="spacingAndGlyphs">2</text>
<text x="315.4" y="705"  textLength="8.4" lengthAdjust="spacingAndGlyphs">E</text>
<rect x="315.4" y="694" width="9.6" height="0.6" fill="#222"/>
<text x="324.5" y="699.6" font-style="normal" font-size="8.0" textLength="3.5" lengthAdjust="spacingAndGlyphs">2</text>
<text x="325" y="707.6" font-size="8.0" textLength="5.2" lengthAdjust="spacingAndGlyphs">T</text>
<text x="331.8" y="705" font-style="normal">.</text>
</g></g>
<text x="318.1" y="817.9" font-family="Liberation Serif, serif" font-size="12.2" fill="#222">1</text><text x="324.6" y="817.9" font-family="Liberation Serif, serif" font-size="12.2" fill="#222">1</text>
</svg></body></html>
